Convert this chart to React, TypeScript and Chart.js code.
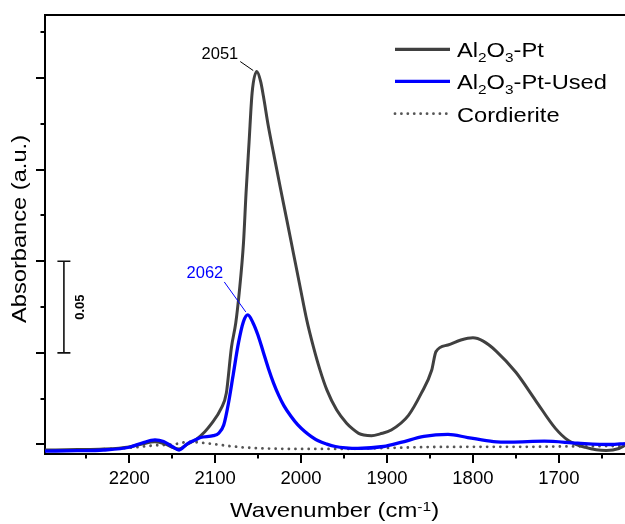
import React, { useEffect, useRef } from "react";
import { Chart, registerables } from "chart.js";

Chart.register(...registerables);

// ---------- data ----------
const ptWavenumber = [
  2298, 2260, 2230, 2200, 2185, 2170, 2158, 2150, 2142, 2133, 2122, 2112, 2104, 2093, 2087, 2081,
  2076, 2072, 2067, 2064, 2060.5, 2057, 2051.5, 2047, 2043.8, 2038, 2032, 2024.4, 2016.6, 2008.9,
  2001.2, 1993.4, 1985.7, 1978, 1970, 1958.5, 1947, 1940, 1933, 1927, 1918, 1908, 1895, 1875, 1860,
  1848, 1843, 1829, 1814, 1800, 1788, 1773, 1750, 1727, 1704, 1689, 1669, 1645, 1630, 1623,
];
const ptAbsorbance = [
  -0.003, -0.0028, -0.0025, -0.0013, 0.0003, 0.0015, 0.0002, -0.0015, -0.0025, 0.0, 0.0028, 0.007,
  0.0115, 0.0197, 0.0279, 0.0531, 0.0663, 0.0827, 0.11, 0.1375, 0.165, 0.1917, 0.2035, 0.198, 0.19,
  0.1735, 0.159, 0.1408, 0.1226, 0.1044, 0.0862, 0.068, 0.0534, 0.0407, 0.0298, 0.0188, 0.0116,
  0.0085, 0.0061, 0.0052, 0.0048, 0.0058, 0.0079, 0.0159, 0.028, 0.0405, 0.0507, 0.0543, 0.057,
  0.0582, 0.0564, 0.051, 0.0394, 0.024, 0.0088, 0.0022, -0.0016, -0.0033, -0.0022, -0.0005,
];

const usedWavenumber = [
  2298, 2260, 2230, 2200, 2185, 2170, 2160, 2150, 2142, 2132, 2122, 2117, 2102, 2096, 2090, 2084.5,
  2078.7, 2072.9, 2067.1, 2062, 2056, 2050, 2044, 2038, 2032, 2026, 2020, 2012, 2004, 1996, 1988,
  1980, 1970, 1960, 1948, 1934, 1904, 1884, 1857, 1829, 1806, 1776, 1756, 1717, 1678, 1640, 1623,
];
const usedAbsorbance = [
  -0.0036, -0.0034, -0.003, -0.0015, 0.0008, 0.0025, 0.0016, -0.0011, -0.003, 0.0005, 0.0027, 0.0038,
  0.0048, 0.0061, 0.0106, 0.0225, 0.0389, 0.0553, 0.067, 0.0707, 0.0665, 0.0595, 0.0505, 0.0415,
  0.0335, 0.0268, 0.0212, 0.0155, 0.0108, 0.0072, 0.0043, 0.002, 0.0002, -0.0011, -0.0018, -0.0021,
  -0.0011, 0.0011, 0.0044, 0.0055, 0.0038, 0.0016, 0.0013, 0.0018, 0.0007, 0.0, 0.0005,
];

const cordWavenumber = [
  2298, 2250, 2200, 2170, 2150, 2130, 2116, 2098, 2080, 2060, 2030, 2000, 1950, 1900, 1850, 1800,
  1750, 1700, 1650, 1623,
];
const cordAbsorbance = [
  -0.0033, -0.003, -0.0018, -0.0005, 0.0, 0.0014, 0.001, 0.0, -0.001, -0.0018, -0.0023, -0.0024,
  -0.0024, -0.0019, -0.0014, -0.0013, -0.0013, -0.0011, -0.0009, -0.0007,
];

const xTickValues = [2200, 2100, 2000, 1900, 1800, 1700];
const xMinorValues = [2250, 2150, 2050, 1950, 1850, 1750, 1650];
const yMajorValues = [0, 0.05, 0.1, 0.15, 0.2];
const yMinorValues = [0.025, 0.075, 0.125, 0.175, 0.225];

const peakLabels = ["2051", "2062"];
const peakWavenumbers = [2051, 2062];
const peakAbsorbances = [0.203, 0.0707];

const scaleBarFrom = 0.05;
const scaleBarTo = 0.1;
const scaleBarWavenumber = 2276;
const scaleBarLabel = "0.05";

type Part = { t: string; sub?: boolean; sup?: boolean };
const legendPt: Part[] = [{ t: "Al" }, { t: "2", sub: true }, { t: "O" }, { t: "3", sub: true }, { t: "-Pt" }];
const legendUsed: Part[] = [{ t: "Al" }, { t: "2", sub: true }, { t: "O" }, { t: "3", sub: true }, { t: "-Pt-Used" }];
const legendCord: Part[] = [{ t: "Cordierite" }];
const xTitle: Part[] = [{ t: "Wavenumber (cm" }, { t: "-1", sup: true }, { t: ")" }];
const yTitle: Part[] = [{ t: "Absorbance (a.u.)" }];

// ---------- styles ----------
const FONT = '"Liberation Sans", Arial, Helvetica, sans-serif';
const GRAY = "#404040";
const BLUE = "#0000ff";
const DOT = "#555555";

function drawStretched(ctx: CanvasRenderingContext2D, text: string, x: number, y: number, size: number, stretch: number, weight = "normal") {
  ctx.save();
  ctx.font = `${weight} ${size}px ${FONT}`;
  ctx.textBaseline = "alphabetic";
  ctx.textAlign = "left";
  ctx.translate(x, y);
  ctx.scale(stretch, 1);
  ctx.fillText(text, 0, 0);
  const w = ctx.measureText(text).width * stretch;
  ctx.restore();
  return w;
}

function drawRich(ctx: CanvasRenderingContext2D, parts: Part[], x: number, y: number, size: number, stretch: number) {
  let cx = x;
  for (const p of parts) {
    const s = p.sub || p.sup ? size * 0.65 : size;
    const dy = p.sub ? size * 0.22 : p.sup ? -size * 0.33 : 0;
    cx += drawStretched(ctx, p.t, cx, y + dy, s, stretch);
  }
  return cx - x;
}

const decorPlugin = {
  id: "decor",
  afterDraw(chart: any) {
    const ctx: CanvasRenderingContext2D = chart.ctx;
    const { left, right, top, bottom } = chart.chartArea;
    const xs = chart.scales.x;
    const ys = chart.scales.y;
    ctx.save();
    ctx.strokeStyle = "#000";
    ctx.lineWidth = 2;
    // top border
    ctx.beginPath();
    ctx.moveTo(left - 1, top);
    ctx.lineTo(right, top);
    ctx.stroke();
    // y ticks
    ctx.beginPath();
    for (const v of yMajorValues) {
      const py = Math.round(ys.getPixelForValue(v));
      ctx.moveTo(left - 9, py);
      ctx.lineTo(left, py);
    }
    for (const v of yMinorValues) {
      const py = Math.round(ys.getPixelForValue(v));
      ctx.moveTo(left - 4.5, py);
      ctx.lineTo(left, py);
    }
    // x ticks
    for (const v of xTickValues) {
      const px = Math.round(xs.getPixelForValue(v));
      ctx.moveTo(px, bottom);
      ctx.lineTo(px, bottom + 9);
    }
    for (const v of xMinorValues) {
      const px = Math.round(xs.getPixelForValue(v));
      ctx.moveTo(px, bottom);
      ctx.lineTo(px, bottom + 4.5);
    }
    ctx.stroke();

    // scale bar
    const sbx = xs.getPixelForValue(scaleBarWavenumber);
    const sy1 = ys.getPixelForValue(scaleBarTo);
    const sy2 = ys.getPixelForValue(scaleBarFrom);
    ctx.lineWidth = 1.6;
    ctx.strokeStyle = "#111";
    ctx.beginPath();
    ctx.moveTo(sbx, sy1);
    ctx.lineTo(sbx, sy2);
    ctx.moveTo(sbx - 6.5, sy1);
    ctx.lineTo(sbx + 6.5, sy1);
    ctx.moveTo(sbx - 6.5, sy2);
    ctx.lineTo(sbx + 6.5, sy2);
    ctx.stroke();
    ctx.fillStyle = "#000";
    ctx.save();
    ctx.translate(sbx + 20.5, (sy1 + sy2) / 2);
    ctx.rotate(-Math.PI / 2);
    ctx.font = `bold 13px ${FONT}`;
    ctx.textAlign = "center";
    ctx.textBaseline = "alphabetic";
    ctx.fillText(scaleBarLabel, 0, 0);
    ctx.restore();

    // peak annotations
    const annColors = ["#000", BLUE];
    const annOffsets = [
      { tx: -19, ty: -13.5, l1x: -17, l1y: -11, l2x: -4, l2y: -2 },
      { tx: -24.5, ty: -36.5, l1x: -23.5, l1y: -33, l2x: -2, l2y: -3 },
    ];
    for (let i = 0; i < peakLabels.length; i++) {
      const ax = xs.getPixelForValue(peakWavenumbers[i]);
      const ay = ys.getPixelForValue(peakAbsorbances[i]);
      const o = annOffsets[i];
      ctx.strokeStyle = annColors[i];
      ctx.lineWidth = 1;
      ctx.beginPath();
      ctx.moveTo(ax + o.l1x, ay + o.l1y);
      ctx.lineTo(ax + o.l2x, ay + o.l2y);
      ctx.stroke();
      ctx.fillStyle = annColors[i];
      ctx.font = `16.5px ${FONT}`;
      ctx.textAlign = "right";
      ctx.textBaseline = "alphabetic";
      ctx.fillText(peakLabels[i], ax + o.tx, ay + o.ty);
    }

    // legend
    const rows = [
      { parts: legendPt, color: GRAY, dash: [] as number[], width: 3.2, base: 57.3 },
      { parts: legendUsed, color: BLUE, dash: [] as number[], width: 3.2, base: 89.3 },
      { parts: legendCord, color: DOT, dash: [0.01, 6.4], width: 2.8, base: 121.7 },
    ];
    for (const r of rows) {
      ctx.save();
      ctx.strokeStyle = r.color;
      ctx.lineWidth = r.width;
      ctx.setLineDash(r.dash);
      ctx.lineCap = r.dash.length ? "round" : "butt";
      ctx.beginPath();
      ctx.moveTo(395, r.base - 8);
      ctx.lineTo(450, r.base - 8);
      ctx.stroke();
      ctx.restore();
      ctx.fillStyle = "#000";
      drawRich(ctx, r.parts, 457, r.base, 20.4, 1.16);
    }

    // axis titles
    ctx.fillStyle = "#000";
    drawRich(ctx, xTitle, 230, 517.3, 20.4, 1.17);
    ctx.save();
    ctx.translate(26, 323);
    ctx.rotate(-Math.PI / 2);
    drawRich(ctx, yTitle, 0, 0, 20.4, 1.16);
    ctx.restore();

    ctx.restore();
  },
};

export default function App() {
  const ref = useRef<HTMLCanvasElement | null>(null);

  useEffect(() => {
    document.body.style.margin = "0";
    const canvas = ref.current;
    if (!canvas) return;
    const toPts = (xs: number[], ys: number[]) => xs.map((x, i) => ({ x, y: ys[i] }));
    const chart = new Chart(canvas, {
      type: "line",
      data: {
        datasets: [
          {
            label: "Al2O3-Pt-Used",
            data: toPts(usedWavenumber, usedAbsorbance),
            borderColor: BLUE,
            borderWidth: 3.3,
            pointRadius: 0,
            cubicInterpolationMode: "monotone",
            order: 0,
          },
          {
            label: "Al2O3-Pt",
            data: toPts(ptWavenumber, ptAbsorbance),
            borderColor: GRAY,
            borderWidth: 3,
            pointRadius: 0,
            cubicInterpolationMode: "monotone",
            order: 1,
          },
          {
            label: "Cordierite",
            data: toPts(cordWavenumber, cordAbsorbance),
            borderColor: DOT,
            borderWidth: 2.8,
            borderDash: [0.01, 6.6],
            borderCapStyle: "round",
            pointRadius: 0,
            cubicInterpolationMode: "monotone",
            order: 2,
          },
        ],
      },
      options: {
        animation: false,
        responsive: false,
        devicePixelRatio: 1,
        layout: { padding: { top: 15, left: 0, right: 0, bottom: 0 } },
        plugins: { legend: { display: false }, tooltip: { enabled: false }, title: { display: false } },
        scales: {
          x: {
            type: "linear",
            reverse: true,
            min: 1623,
            max: 2298,
            afterBuildTicks: (s: any) => {
              s.ticks = xTickValues.map((v) => ({ value: v }));
            },
            afterFit: (s: any) => {
              s.height = 70;
            },
            ticks: {
              autoSkip: false,
              maxRotation: 0,
              padding: 14,
              color: "#000",
              font: { family: FONT, size: 18.5 },
              callback: (v: any) => String(v),
            },
            grid: { display: false, drawTicks: false },
            border: { display: true, color: "#000", width: 2 },
          },
          y: {
            type: "linear",
            min: -0.00519,
            max: 0.2344,
            afterFit: (s: any) => {
              s.width = 45;
            },
            ticks: { display: false },
            grid: { display: false, drawTicks: false },
            border: { display: true, color: "#000", width: 2 },
          },
        },
      },
      plugins: [decorPlugin],
    } as any);
    return () => chart.destroy();
  }, []);

  return <canvas ref={ref} width={625} height={524} style={{ display: "block" }} />;
}
